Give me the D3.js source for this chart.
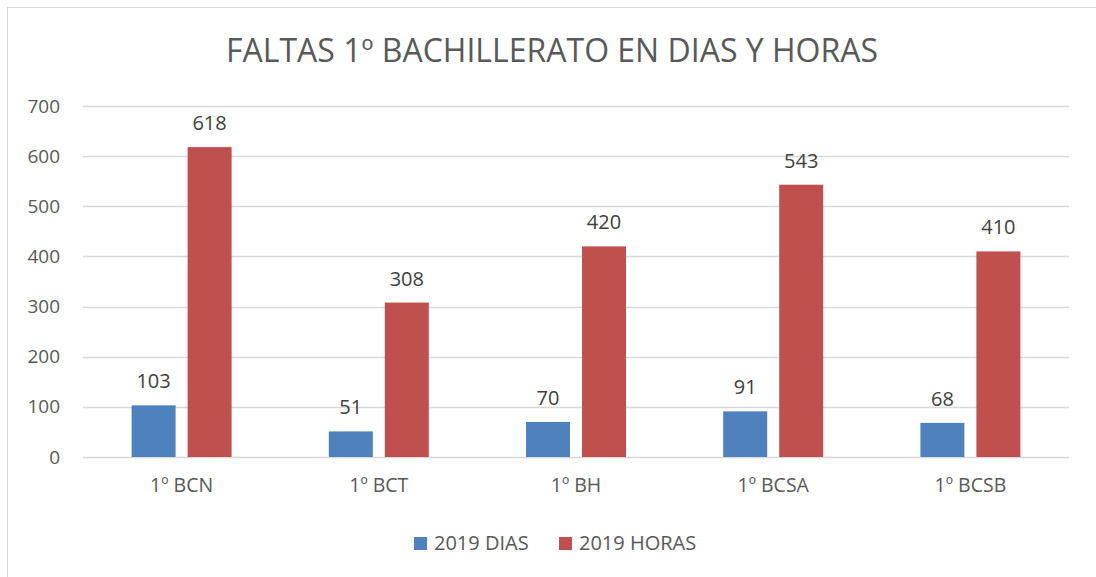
<!DOCTYPE html>
<html>
<head>
<meta charset="utf-8">
<script src="https://cdn.jsdelivr.net/npm/d3@7"></script>
<style>
  body { margin: 0; background: #fff; }
  text { font-family: "Open Sans", "Liberation Sans", sans-serif; }
</style>
</head>
<body>
<script>
const categories = ["1º BCN", "1º BCT", "1º BH", "1º BCSA", "1º BCSB"];
const seriesNames = ["2019 DIAS", "2019 HORAS"];
const dias = [103, 51, 70, 91, 68];
const horas = [618, 308, 420, 543, 410];
const yTicks = [0, 100, 200, 300, 400, 500, 600, 700];
const colors = ["#4F81BD", "#C0504D"];

const W = 1096, H = 577;
const margin = {top: 106, right: 27, bottom: 120, left: 83};
const width = W - margin.left - margin.right,
    height = H - margin.top - margin.bottom;

const svg = d3.select("body").append("svg")
    .attr("width", W)
    .attr("height", H);

// chart border
svg.append("rect")
    .attr("x", 7.5).attr("y", 7.5)
    .attr("width", W + 20).attr("height", H + 20)
    .attr("fill", "none")
    .attr("stroke", "#D9D9D9");

const g = svg.append("g")
    .attr("transform", "translate(" + margin.left + "," + margin.top + ")");

const x = d3.scaleBand().domain(categories).range([0, width]).padding(0);
const y = d3.scaleLinear().domain([0, 700]).range([height, 0]);
const barW = 44, gap = 12;
const xs = d3.scaleBand().domain(seriesNames)
    .range([x.bandwidth() / 2 - barW - gap / 2, x.bandwidth() / 2 + barW + gap / 2])
    .paddingInner(gap / (barW + gap))
    .paddingOuter(0);

// gridlines
g.selectAll(".grid")
    .data(yTicks)
    .enter().append("line")
    .attr("x1", 0).attr("x2", width)
    .attr("y1", d => Math.round(y(d)) + 0.5)
    .attr("y2", d => Math.round(y(d)) + 0.5)
    .attr("stroke", "#D9D9D9")
    .attr("stroke-width", 1.3);

// y axis labels
const yAxis = g.append("g")
    .call(d3.axisLeft(y).tickValues(yTicks).tickSize(0).tickPadding(23));
yAxis.select(".domain").remove();
yAxis.selectAll("text")
    .attr("fill", "#595959")
    .attr("font-size", "19px")
    .attr("font-family", "'Open Sans', sans-serif");

// x axis labels
const xAxis = g.append("g")
    .attr("transform", "translate(0," + height + ")")
    .call(d3.axisBottom(x).tickSize(0).tickPadding(21));
xAxis.select(".domain").remove();
xAxis.selectAll("text")
    .attr("fill", "#595959")
    .attr("font-size", "19.5px")
    .attr("font-family", "'Open Sans', sans-serif");

const rows = categories.map((c, i) => ({cat: c, values: [dias[i], horas[i]]}));

const groups = g.selectAll(".cat")
    .data(rows)
    .enter().append("g")
    .attr("transform", d => "translate(" + x(d.cat) + ",0)");

groups.selectAll("rect")
    .data(d => d.values.map((v, j) => ({name: seriesNames[j], value: v, j: j})))
    .enter().append("rect")
    .attr("x", d => xs(d.name))
    .attr("width", xs.bandwidth())
    .attr("y", d => y(d.value))
    .attr("height", d => height - y(d.value))
    .attr("fill", d => colors[d.j]);

groups.selectAll(".lbl")
    .data(d => d.values.map((v, j) => ({name: seriesNames[j], value: v})))
    .enter().append("text")
    .attr("class", "lbl")
    .attr("x", d => xs(d.name) + xs.bandwidth() / 2)
    .attr("y", d => y(d.value) - 17)
    .attr("text-anchor", "middle")
    .attr("font-size", "20px")
    .attr("fill", "#404040")
    .text(d => d.value);

// title
svg.append("text")
    .attr("x", 552).attr("y", 62)
    .attr("text-anchor", "middle")
    .attr("font-size", "32px")
    .attr("fill", "#595959")
    .text("FALTAS 1º BACHILLERATO EN DIAS Y HORAS");

// legend
const legendItems = [
    {name: seriesNames[0], sx: 414, tx: 434},
    {name: seriesNames[1], sx: 559, tx: 579}
];
legendItems.forEach((d, i) => {
    svg.append("rect")
        .attr("x", d.sx).attr("y", 537)
        .attr("width", 13).attr("height", 13)
        .attr("fill", colors[i]);
    svg.append("text")
        .attr("x", d.tx).attr("y", 550)
        .attr("font-size", "20px")
        .attr("fill", "#595959")
        .text(d.name);
});
</script>
</body>
</html>
